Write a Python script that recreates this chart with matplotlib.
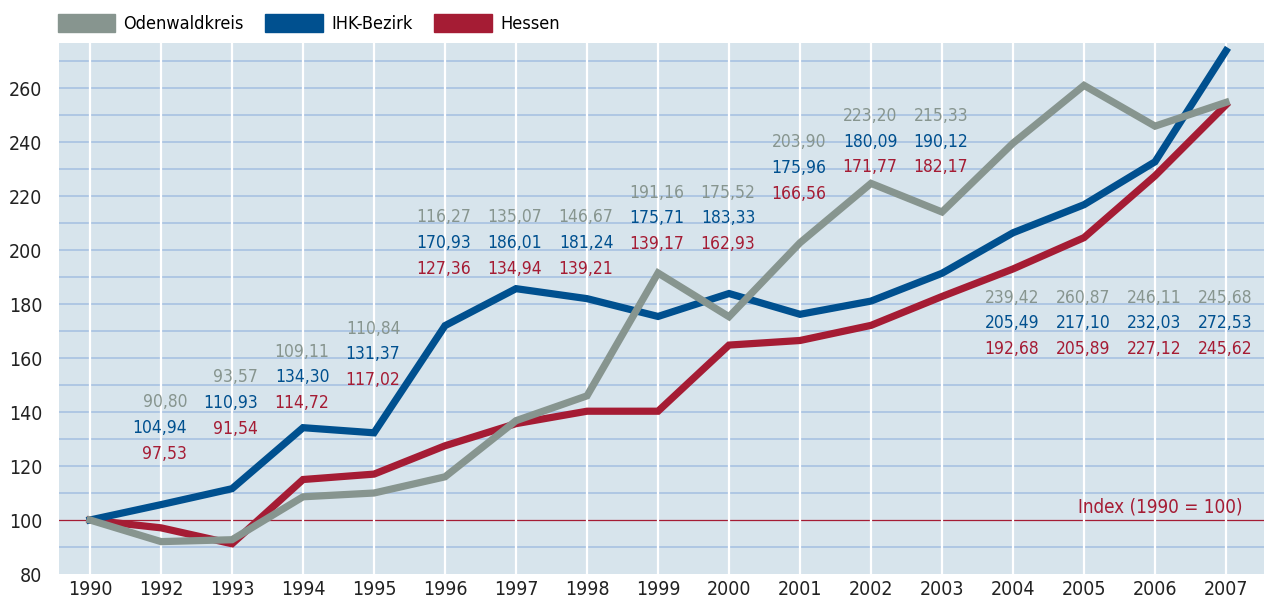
import matplotlib
matplotlib.use("Agg")
import matplotlib.pyplot as plt
from matplotlib.patches import Patch

plt.rcParams["font.family"] = ["DejaVu Sans"]
plt.rcParams["font.stretch"] = "condensed"

years = ["1990", "1992", "1993", "1994", "1995", "1996", "1997", "1998", "1999",
         "2000", "2001", "2002", "2003", "2004", "2005", "2006", "2007"]

# line values as drawn in the picture
odenwald = [100, 92.0, 92.7, 108.6, 110.0, 116.0, 136.8, 146.0, 191.5, 175.3,
            202.7, 224.7, 214.1, 239.6, 261.0, 245.9, 254.7]
ihk = [100, 105.7, 111.6, 134.2, 132.3, 172.0, 185.7, 182.0, 175.4, 183.9,
       176.2, 181.1, 191.4, 206.4, 216.8, 232.7, 273.8]
hessen = [100, 97.1, 91.2, 115.0, 117.0, 127.5, 135.7, 140.3, 140.3, 164.8,
          166.5, 172.1, 182.8, 193.0, 204.6, 227.5, 253.8]

# printed value labels (1992 .. 2007)
lab_odenwald = ["90,80", "93,57", "109,11", "110,84", "116,27", "135,07", "146,67", "191,16",
                "175,52", "203,90", "223,20", "215,33", "239,42", "260,87", "246,11", "245,68"]
lab_ihk = ["104,94", "110,93", "134,30", "131,37", "170,93", "186,01", "181,24", "175,71",
           "183,33", "175,96", "180,09", "190,12", "205,49", "217,10", "232,03", "272,53"]
lab_hessen = ["97,53", "91,54", "114,72", "117,02", "127,36", "134,94", "139,21", "139,17",
              "162,93", "166,56", "171,77", "182,17", "192,68", "205,89", "227,12", "245,62"]

# vertical placement of the top label in each column
label_top = [143.6, 152.8, 162.3, 170.9, 212.1, 212.1, 212.1, 221.3, 221.3,
             239.9, 249.7, 249.7, 182.4, 182.4, 182.4, 182.4]
row_gap = 9.5

c_grey = "#87958f"
c_blue = "#00508f"
c_red = "#a51c34"
bg = "#d7e4ec"

fig = plt.figure(figsize=(12.66, 5.99), dpi=100)
ax = fig.add_axes([59 / 1266, 25 / 599, 1205 / 1266, 531 / 599])
ax.set_facecolor(bg)
for s in ax.spines.values():
    s.set_visible(False)

x = list(range(len(years)))
ax.set_xlim(-0.437, 16.535)
ax.set_ylim(80, 276.7)

for v in range(90, 280, 10):
    if v == 100:
        ax.axhline(v, color=c_red, lw=0.9, zorder=1)
    else:
        ax.axhline(v, color="#a8c2e2", lw=1.2, zorder=1)
for xi in x:
    ax.axvline(xi, color="white", lw=1.6, zorder=1)

ax.plot(x, hessen, color=c_red, lw=5.2, solid_joinstyle="miter", zorder=3)
ax.plot(x, ihk, color=c_blue, lw=5.2, solid_joinstyle="miter", zorder=4)
ax.plot(x, odenwald, color=c_grey, lw=5.2, solid_joinstyle="miter", zorder=5)

fs = 12.5
for i, top in enumerate(label_top):
    xi = x[i + 1] + 0.37
    ax.text(xi, top, lab_odenwald[i], color=c_grey, fontsize=fs, ha="right", va="center", zorder=2)
    ax.text(xi, top - row_gap, lab_ihk[i], color=c_blue, fontsize=fs, ha="right", va="center", zorder=2)
    ax.text(xi, top - 2 * row_gap, lab_hessen[i], color=c_red, fontsize=fs, ha="right", va="center", zorder=2)

ax.text(16.23, 104.9, "Index (1990 = 100)", color=c_red, fontsize=13.5, ha="right", va="center")

ax.set_xticks(x)
ax.set_xticklabels(years, fontsize=14, color="#222222")
ax.set_yticks(range(80, 261, 20))
ax.set_yticklabels([str(v) for v in range(80, 261, 20)], fontsize=14, color="#222222")
ax.tick_params(axis="both", length=0)
ax.tick_params(axis="x", pad=4)
ax.tick_params(axis="y", pad=12)

handles = [Patch(color=c_grey, label="Odenwaldkreis"),
           Patch(color=c_blue, label="IHK-Bezirk"),
           Patch(color=c_red, label="Hessen")]
fig.legend(handles=handles, loc="upper left", bbox_to_anchor=(44 / 1266, 1.0), ncol=3,
           frameon=False, fontsize=13, handlelength=3.2, handleheight=1.2,
           columnspacing=1.2, handletextpad=0.45, borderaxespad=0.35)

fig.savefig("out.png", dpi=100)
